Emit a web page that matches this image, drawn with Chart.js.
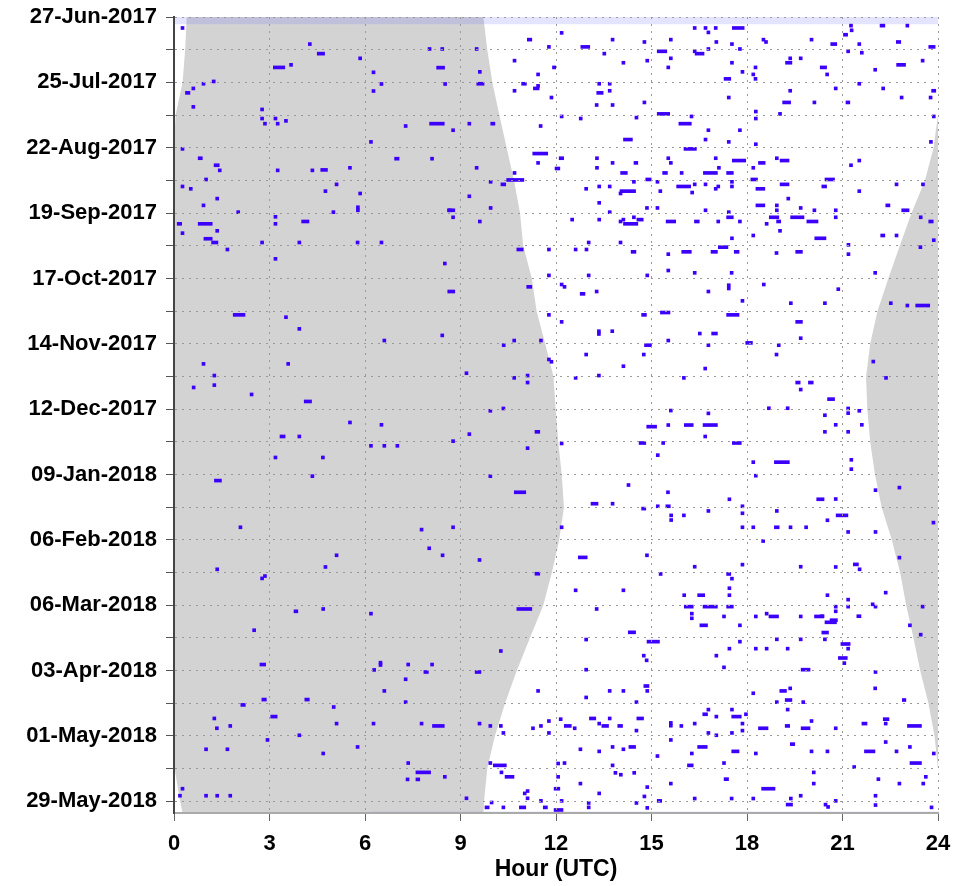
<!DOCTYPE html>
<html lang="en">
<head>
<meta charset="UTF-8">
<title>Events by hour of day (UTC)</title>
<script src="https://cdn.jsdelivr.net/npm/chart.js"></script>
<style>
  html, body { margin: 0; padding: 0; background: #fff; }
  canvas { display: block; }
</style>
</head>
<body>
<canvas id="chart" width="953" height="886"></canvas>
<script>
// y axis: days since 27-Jun-2017, labelled every 28 days, grid every 14
const lastDay = 341;
const yTickLabels = ['27-Jun-2017', '25-Jul-2017', '22-Aug-2017', '19-Sep-2017', '17-Oct-2017',
  '14-Nov-2017', '12-Dec-2017', '09-Jan-2018', '06-Feb-2018', '06-Mar-2018',
  '03-Apr-2018', '01-May-2018', '29-May-2018'];
const gridDays = [0, 14, 28, 42, 56, 70, 84, 98, 112, 126, 140, 154, 168, 182, 196, 210,
  224, 238, 252, 266, 280, 294, 308, 322, 336];

// sunrise / sunset in UTC hours (sunset after midnight kept as > 24)
const sunDays = [0, 14, 28, 42, 56, 70, 84, 98, 112, 126, 140, 154, 168, 182, 196, 210,
  224, 238, 252, 266, 280, 294, 308, 322, 336, 341];
const sunriseHour = [9.72, 9.84, 10.00, 10.22, 10.45, 10.68, 10.87, 10.97, 11.24, 11.39, 11.66, 11.92, 11.99,
  12.07, 12.18, 12.25, 12.10, 11.87, 11.60, 11.18, 10.77, 10.40, 10.08, 9.84, 9.74, 9.72];
const sunsetHour = [24.40, 24.35, 24.27, 24.05, 23.86, 23.59, 23.17, 22.80, 22.44, 22.10, 21.87, 21.74, 21.78,
  21.87, 22.02, 22.23, 22.55, 22.81, 23.00, 23.23, 23.44, 23.70, 23.89, 24.02, 24.19, 24.27];

// no-data bands (start / end of record)
const gapDayFrom = [0, 340.4];
const gapDayTo = [3.1, 341];
const gapHourFrom = [0, 6.2];
const gapHourTo = [24, 24];

// short events (single samples)
const dotDay = [
  4.7, 4.7, 6.6, 4.7, 3.7, 5.7, 3.7, 6.8, 9.7, 10.7,
  9.7, 10.7, 11.6, 9.7, 10.7, 9.7, 11.6, 12.8, 15.7, 14.7,
  13.7, 13.7, 14.7, 15.3, 13.7, 13.7, 13.7, 18.7, 19.6, 18.7,
  17.7, 19.6, 17.7, 17.7, 18.7, 23.5, 24.6, 21.6, 23.5, 21.6,
  24.6, 26.5, 24.6, 22.6, 28.7, 29.5, 31.6, 28.6, 28.6, 31.6,
  34.5, 37.7, 37.7, 36.6, 34.5, 31.6, 36.6, 30.6, 28.6, 30.6,
  34.5, 34.5, 48.5, 45.7, 42.6, 43.5, 43.1, 42.6, 46.7, 40.5,
  43.5, 41.5, 42.6, 48.5, 52.5, 53.5, 48.5, 54.5, 53.5, 62.5,
  60.5, 62.5, 60.5, 62.5, 60.5, 60.5, 63.5, 61.5, 64.6, 66.8,
  64.6, 66.8, 64.6, 64.6, 70.6, 76.8, 85.8, 81.8, 87.6, 73.6,
  72.6, 72.6, 70.6, 75.6, 70.6, 74.6, 75.2, 71.7, 71.7, 73.6,
  72.6, 70.6, 72.6, 77.8, 74.6, 71.7, 71.7, 79.6, 83.6, 86.8,
  86.8, 87.6, 86.8, 85.8, 81.8, 81.8, 82.8, 87.6, 83.6, 87.6,
  94.8, 93.6, 80.7, 82.8, 88.6, 91.6, 81.8, 82.8, 82.8, 85.8,
  85.8, 93.6, 4.7, 11.6, 20.5, 28.6, 27.6, 30.6, 38.5, 39.6,
  43.5, 45.7, 43.5, 45.7, 44.5, 56.5, 65.7, 65.7, 65.7, 69.6,
  72.6, 73.6, 77.8, 80.7, 83.6, 92.6, 91.6, 85.6, 88.6, 17.7,
  23.7, 28.7, 31.7, 46.7, 53.5, 60.7, 64.6, 71.7, 74.6, 75.6,
  81.5, 82.8, 83.6, 82.8, 99.6, 96.6, 96.6, 96.6, 96.6, 99.6,
  103.6, 105.6, 110.7, 128.6, 133.6, 127.6, 136.4, 138.6, 140.6, 138.6,
  138.6, 146.7, 147.7, 148.6, 148.6, 153.6, 152.6, 154.6, 153.6, 156.6,
  96.6, 96.6, 99.6, 99.6, 101.6, 101.1, 97.6, 101.6, 98.6, 95.6,
  110.7, 110.7, 108.6, 109.6, 109.6, 109.6, 114.6, 115.6, 117.6, 117.6,
  114.9, 116.3, 121.6, 114.6, 116.6, 122.6, 122.6, 122.6, 123.6, 130.6,
  134.6, 135.8, 134.6, 138.6, 135.6, 140.6, 137.6, 140.6, 144.6, 144.6,
  144.6, 149.6, 150.6, 154.6, 153.6, 154.6, 147.6, 154.6, 158.7, 157.7,
  161.7, 173.7, 174.7, 179.7, 168.7, 167.7, 178.7, 181.7, 183.7, 183.7,
  183.7, 184.7, 182.7, 188.7, 188.7, 196.7, 196.7, 218.6, 219.6, 218.6,
  218.6, 227.6, 230.6, 232.6, 230.6, 235.6, 236.6, 240.5, 239.5, 159.6,
  168.6, 169.8, 167.6, 167.6, 170.6, 174.8, 179.7, 177.7, 182.5, 187.7,
  190.7, 196.5, 200.5, 203.6, 206.6, 208.5, 209.6, 209.6, 213.5, 215.5,
  213.5, 211.6, 212.6, 218.6, 218.6, 218.6, 218.6, 211.6, 224.5, 230.6,
  235.5, 234.6, 235.5, 238.6, 240.6, 167.7, 169.7, 168.7, 174.7, 174.7,
  177.7, 189.7, 193.7, 202.7, 201.6, 206.5, 215.6, 220.6, 220.6, 216.6,
  231.6, 236.6, 235.6, 246.6, 247.7, 249.6, 252.6, 251.6, 252.6, 252.6,
  254.6, 252.6, 266.6, 260.6, 264.6, 270.6, 276.8, 280.6, 253.6, 255.6,
  262.7, 271.6, 276.6, 277.6, 279.7, 277.4, 277.4, 283.7, 288.7, 288.7,
  295.6, 293.5, 300.5, 304.7, 303.7, 302.7, 302.7, 302.7, 302.7, 303.7,
  303.7, 306.7, 304.7, 303.7, 301.6, 306.7, 300.8, 307.7, 309.7, 313.7,
  313.7, 315.5, 312.7, 319.6, 319.6, 245.6, 245.6, 247.7, 244.7, 247.7,
  253.6, 255.6, 257.6, 256.8, 260.6, 266.7, 267.6, 270.6, 273.6, 275.6,
  273.6, 278.6, 279.6, 288.7, 288.7, 288.7, 291.5, 293.5, 256.8, 255.6,
  256.8, 270.6, 270.6, 270.6, 266.6, 266.6, 289.7, 287.6, 293.5, 293.5,
  296.7, 287.6, 304.7, 302.7, 300.5, 305.7, 302.4, 303.6, 303.7, 302.7,
  296.7, 299.7, 306.7, 307.7, 296.7, 298.7, 302.7, 305.7, 306.7, 301.6,
  304.7, 302.7, 313.7, 314.6, 312.7, 313.7, 309.7, 316.6, 315.5, 319.6,
  315.5, 314.6, 314.6, 310.6, 314.6, 312.7, 315.5, 319.6, 326.6, 325.5,
  333.6, 330.6, 333.6, 333.6, 333.6, 334.7, 323.6, 336.5, 338.6, 332.6,
  331.6, 334.7, 335.8, 325.5, 319.8, 335.8, 328.4, 336.7, 338.6, 332.6,
  320.6, 323.8, 324.6, 323.8, 336.7, 333.9, 329.9, 338.8, 328.4, 334.8,
  334.8, 334.8, 334.8, 333.6, 323.6, 328.4, 337.4, 338.4, 335.8, 321.3,
  333.6, 337.6, 326.5, 328.4, 325.5, 328.4, 338.6
];
const dotHour = [
  16.31, 16.65, 16.74, 16.97, 21.22, 21.24, 22.99, 12.13, 13.73, 14.73,
  15.56, 16.99, 17.48, 18.47, 18.55, 19.98, 21.48, 11.73, 13.47, 16.31,
  16.74, 17.73, 21.13, 21.56, 9.46, 7.98, 8.38, 10.65, 14.07, 14.82,
  15.56, 17.48, 19.31, 19.64, 23.47, 9.56, 11.39, 15.48, 17.81, 18.22,
  18.15, 18.22, 20.47, 21.98, 8.47, 11.39, 10.65, 13.31, 13.64, 13.64,
  11.81, 13.23, 13.73, 14.73, 17.38, 19.31, 20.07, 20.74, 21.48, 22.23,
  22.81, 23.72, 8.72, 9.23, 12.13, 12.73, 14.48, 16.21, 11.47, 18.23,
  18.23, 18.99, 23.82, 16.74, 16.65, 17.38, 17.73, 18.23, 23.73, 11.39,
  13.24, 13.73, 15.48, 15.56, 16.97, 18.89, 21.22, 21.48, 9.46, 10.65,
  13.24, 15.90, 17.07, 18.15, 9.90, 9.23, 8.72, 9.90, 9.56, 12.90,
  13.31, 13.64, 14.40, 13.98, 15.14, 15.23, 16.23, 16.31, 16.65, 16.97,
  17.05, 17.48, 17.48, 19.25, 21.48, 22.65, 23.48, 13.31, 13.64, 12.46,
  13.31, 13.98, 14.07, 14.40, 14.81, 15.14, 16.65, 17.05, 17.38, 17.73,
  17.48, 18.15, 18.89, 18.89, 18.57, 18.99, 19.64, 20.07, 20.74, 20.74,
  23.41, 22.65, 0.22, 4.22, 3.63, 0.88, 1.20, 0.56, 0.56, 2.72,
  2.72, 2.81, 3.14, 3.21, 3.47, 0.22, 1.39, 3.21, 4.30, 0.96,
  0.22, 0.48, 1.31, 0.88, 1.97, 0.22, 1.31, 3.14, 3.14, 5.80,
  6.22, 6.47, 6.22, 7.23, 6.14, 8.06, 5.48, 5.06, 4.71, 5.80,
  5.73, 5.73, 4.96, 8.62, 1.63, 2.72, 3.89, 5.72, 6.47, 11.73,
  3.14, 8.46, 11.73, 3.47, 3.89, 11.73, 8.38, 6.56, 10.31, 10.64,
  11.48, 11.73, 11.81, 0.88, 3.54, 1.22, 9.14, 10.64, 11.06, 11.06,
  12.98, 13.98, 12.57, 12.91, 15.48, 18.88, 21.14, 21.14, 23.40, 23.82,
  12.98, 14.82, 15.48, 16.31, 17.47, 21.98, 12.13, 12.22, 13.23, 16.74,
  17.38, 17.38, 17.81, 18.48, 20.82, 19.33, 20.40, 22.47, 22.99, 12.13,
  13.30, 13.30, 13.72, 15.48, 16.47, 16.74, 19.64, 18.95, 18.88, 12.90,
  14.71, 14.07, 16.64, 12.57, 13.30, 15.97, 21.92, 22.32, 0.57, 1.22,
  2.39, 5.48, 6.47, 3.89, 9.89, 10.30, 9.23, 8.72, 6.14, 6.56,
  6.97, 11.06, 12.13, 3.14, 4.63, 4.30, 9.89, 2.04, 7.73, 8.72,
  12.13, 7.97, 8.39, 9.55, 5.06, 4.71, 1.31, 2.72, 2.81, 19.64,
  15.56, 16.74, 18.64, 19.23, 20.40, 15.48, 16.64, 20.40, 15.32, 15.15,
  18.15, 18.23, 14.23, 15.47, 17.40, 13.73, 15.15, 17.81, 15.57, 15.57,
  15.97, 16.74, 17.81, 17.81, 18.15, 19.32, 19.81, 18.89, 18.46, 14.81,
  16.31, 17.81, 19.64, 15.24, 17.48, 21.13, 21.13, 21.48, 20.74, 21.56,
  21.13, 21.23, 21.23, 21.99, 22.74, 20.74, 20.48, 21.13, 21.99, 23.81,
  22.74, 21.49, 20.74, 22.31, 20.48, 21.13, 21.13, 21.90, 21.99, 20.74,
  20.74, 23.47, 20.40, 23.07, 23.41, 21.13, 21.01, 21.99, 4.64, 6.14,
  2.47, 10.22, 6.44, 6.44, 6.24, 7.31, 8.06, 7.23, 6.56, 11.39,
  4.97, 7.23, 1.22, 1.30, 1.72, 5.06, 6.22, 7.73, 9.55, 9.89,
  10.22, 10.30, 11.23, 11.48, 11.73, 11.73, 12.10, 3.89, 2.89, 0.96,
  1.63, 4.64, 5.72, 7.31, 9.89, 12.57, 14.07, 15.98, 17.40, 17.40,
  13.23, 16.22, 16.22, 17.23, 17.73, 12.90, 17.73, 17.40, 14.71, 14.80,
  16.99, 17.23, 12.90, 13.64, 14.07, 14.82, 12.90, 14.48, 18.23, 18.57,
  19.64, 18.23, 18.57, 19.23, 18.89, 19.64, 18.15, 19.31, 18.89, 19.72,
  19.23, 21.98, 12.54, 13.31, 13.64, 14.48, 15.56, 15.56, 15.89, 16.31,
  16.74, 16.99, 16.74, 16.99, 17.48, 17.92, 17.81, 17.81, 17.48, 19.98,
  20.74, 22.31, 12.72, 13.31, 13.73, 14.07, 15.56, 15.14, 16.22, 17.23,
  18.23, 19.98, 20.48, 22.31, 22.65, 23.07, 23.82, 12.22, 7.29, 8.46,
  0.14, 0.22, 0.96, 1.31, 1.72, 9.14, 10.24, 9.93, 10.30, 10.97,
  11.06, 11.06, 11.48, 12.02, 12.02, 12.13, 12.72, 12.98, 12.98, 13.31,
  13.73, 13.82, 13.99, 14.41, 14.48, 14.73, 14.82, 14.82, 15.56, 16.31,
  17.47, 18.15, 19.33, 19.64, 20.05, 20.05, 20.42, 20.50, 20.74, 21.32,
  21.99, 21.99, 22.08, 22.74, 23.57, 23.49, 23.75
];

// longer events: day, start hour, duration in hours
const barDay = [
  4.7, 7.6, 3.7, 9.7, 11.6, 10.7, 12.8, 12.8, 14.7, 15.7,
  19.6, 20.5, 21.7, 21.6, 21.6, 26.5, 28.6, 28.6, 30.6, 32.5,
  36.6, 31.6, 36.6, 45.7, 45.7, 41.5, 45.7, 52.5, 56.5, 58.5,
  60.5, 62.5, 61.5, 62.5, 61.5, 64.9, 66.8, 66.8, 66.8, 66.8,
  69.8, 71.7, 82.8, 74.6, 69.6, 72.6, 69.6, 73.6, 71.7, 69.6,
  72.6, 88.6, 86.8, 87.6, 87.6, 85.8, 80.7, 85.8, 87.6, 85.8,
  87.6, 94.8, 80.7, 82.8, 87.6, 93.6, 15.7, 21.6, 32.5, 60.5,
  63.5, 88.6, 88.6, 87.6, 95.0, 96.6, 60.7, 65.5, 99.6, 115.6,
  117.6, 127.6, 100.6, 100.6, 100.6, 98.6, 100.6, 100.6, 118.6, 123.6,
  127.6, 126.6, 127.6, 140.6, 135.6, 139.6, 130.6, 156.6, 156.6, 164.7,
  179.7, 177.7, 198.6, 203.6, 238.5, 175.5, 174.8, 174.8, 182.5, 182.5,
  190.7, 208.5, 210.6, 209.6, 206.6, 218.6, 231.5, 238.6, 163.7, 213.5,
  234.5, 256.7, 256.7, 259.3, 258.4, 263.7, 268.6, 274.6, 254.6, 253.6,
  277.4, 280.6, 280.6, 294.7, 292.4, 292.4, 299.7, 303.7, 247.7, 252.6,
  252.6, 252.6, 260.6, 263.6, 267.6, 286.6, 256.8, 256.8, 279.6, 288.7,
  292.6, 292.6, 303.7, 300.5, 303.7, 303.7, 300.5, 298.7, 299.7, 304.7,
  303.7, 304.7, 302.7, 300.8, 303.7, 312.7, 312.7, 314.6, 311.5, 314.6,
  319.6, 320.6, 323.6, 326.6, 320.6, 325.5, 338.6, 338.6, 338.6, 330.6,
  339.7, 335.8, 326.5, 330.6, 337.4
];
const barStart = [
  17.54, 21.03, 22.18, 11.10, 20.63, 22.69, 23.71, 12.78, 15.18, 16.37,
  19.21, 22.70, 8.25, 11.89, 20.30, 17.28, 9.51, 10.92, 11.29, 13.28,
  19.12, 23.80, 21.11, 8.03, 9.95, 15.18, 15.86, 14.12, 16.02, 11.27,
  12.10, 14.45, 17.54, 18.36, 19.04, 11.97, 14.03, 15.35, 16.63, 17.36,
  10.45, 10.27, 8.59, 14.01, 14.82, 15.79, 18.12, 18.28, 19.04, 20.45,
  20.35, 14.12, 14.54, 15.46, 16.35, 17.36, 18.28, 18.70, 18.93, 19.37,
  19.88, 20.13, 22.36, 22.86, 23.71, 22.20, 4.50, 3.12, 0.36, 0.76,
  1.26, 0.10, 0.76, 4.01, 0.94, 1.18, 6.93, 4.61, 10.77, 11.08,
  8.60, 1.86, 14.36, 15.95, 16.87, 17.10, 17.60, 19.53, 12.76, 23.30,
  14.69, 15.28, 17.36, 14.78, 16.89, 17.96, 19.53, 19.53, 19.93, 4.09,
  3.33, 11.34, 1.27, 10.69, 11.34, 14.85, 16.03, 16.62, 14.61, 17.54,
  18.86, 13.10, 14.69, 15.45, 20.19, 18.86, 12.70, 17.36, 20.53, 20.80,
  21.34, 20.30, 21.45, 20.45, 20.61, 20.35, 20.95, 20.87, 3.77, 10.77,
  2.70, 7.85, 9.46, 2.10, 2.76, 4.11, 3.04, 8.12, 16.45, 16.03,
  16.62, 17.36, 16.52, 14.27, 14.86, 14.76, 18.69, 20.12, 19.70, 19.03,
  19.20, 22.88, 12.26, 13.05, 13.44, 13.94, 14.54, 16.61, 17.52, 18.36,
  19.20, 19.70, 21.61, 22.28, 23.04, 14.29, 16.45, 17.52, 19.36, 21.69,
  23.12, 16.13, 7.60, 7.60, 10.03, 10.40, 9.77, 10.85, 11.60, 11.94,
  11.94, 15.18, 17.28, 18.46, 19.23
];
const barLength = [
  0.37, 0.13, 0.15, 0.14, 0.19, 0.14, 0.20, 0.28, 0.30, 0.28,
  0.20, 0.28, 0.25, 0.10, 0.20, 0.21, 0.23, 0.15, 0.18, 0.20,
  0.25, 0.13, 0.12, 0.46, 0.13, 0.39, 0.39, 0.28, 0.39, 0.47,
  0.14, 0.12, 0.42, 0.21, 0.28, 0.15, 0.21, 0.15, 0.44, 0.21,
  0.54, 0.15, 0.23, 0.49, 0.17, 0.44, 0.21, 0.28, 0.28, 0.30,
  0.15, 0.45, 0.20, 0.30, 0.15, 0.21, 0.28, 0.30, 0.13, 0.42,
  0.35, 0.35, 0.13, 0.23, 0.14, 0.13, 0.23, 0.36, 0.14, 0.13,
  0.16, 0.14, 0.44, 0.23, 0.26, 0.20, 0.14, 0.21, 0.20, 0.16,
  0.22, 0.37, 0.15, 0.30, 0.20, 0.30, 0.15, 0.21, 0.15, 0.44,
  0.15, 0.30, 0.39, 0.22, 0.18, 0.21, 0.21, 0.14, 0.15, 0.23,
  0.16, 0.15, 0.22, 0.36, 0.15, 0.31, 0.28, 0.45, 0.21, 0.28,
  0.47, 0.22, 0.13, 0.14, 0.23, 0.15, 0.28, 0.13, 0.22, 0.37,
  0.16, 0.12, 0.13, 0.36, 0.23, 0.21, 0.29, 0.28, 0.12, 0.47,
  0.18, 0.14, 0.18, 0.14, 0.14, 0.14, 0.20, 0.37, 0.22, 0.28,
  0.45, 0.21, 0.24, 0.23, 0.39, 0.16, 0.30, 0.28, 0.28, 0.21,
  0.21, 0.11, 0.22, 0.20, 0.21, 0.15, 0.21, 0.15, 0.30, 0.30,
  0.14, 0.28, 0.16, 0.18, 0.44, 0.21, 0.30, 0.23, 0.14, 0.33,
  0.36, 0.18, 0.46, 0.12, 0.41, 0.28, 0.13, 0.20, 0.13, 0.18,
  0.28, 0.14, 0.14, 0.42, 0.20
];

const EVENT_BLUE = 'rgb(60, 0, 250)';
const NIGHT_GREY = '#d3d3d3';
const GAP_TINT = 'rgba(120, 120, 255, 0.2)';

Chart.defaults.font.family = "'Liberation Sans', Arial, sans-serif";
Chart.defaults.font.weight = 'bold';
Chart.defaults.color = '#000';

// night: left part runs from max(0, sunset-24) to sunrise, right part from sunset to 24
const nightLeft = sunDays.map((d, i) => ({x: sunriseHour[i], y: d}))
  .concat(sunDays.map((d, i) => ({x: Math.max(0, sunsetHour[i] - 24), y: d})).reverse());
const nightRight = sunDays.map((d, i) => ({x: Math.min(24, sunsetHour[i]), y: d}))
  .concat(sunDays.map(d => ({x: 24, y: d})).reverse());

function shapeSet(points, colour, order) {
  return {
    type: 'line', data: points, fill: 'shape', backgroundColor: colour,
    borderColor: 'rgba(0,0,0,0)', borderWidth: 0, pointRadius: 0, tension: 0, order: order
  };
}

const gapSets = gapDayFrom.map((d, i) => shapeSet([
  {x: gapHourFrom[i], y: d}, {x: gapHourTo[i], y: d},
  {x: gapHourTo[i], y: gapDayTo[i]}, {x: gapHourFrom[i], y: gapDayTo[i]}
], GAP_TINT, 1));

const eventStyle = {
  type: 'bar', indexAxis: 'y', backgroundColor: EVENT_BLUE, borderWidth: 0,
  barThickness: 3, minBarLength: 3, grouped: false, order: 0
};

new Chart(document.getElementById('chart'), {
  type: 'bar',
  data: {
    datasets: [
      Object.assign({label: 'samples', data: dotDay.map((d, i) => ({y: d, x: [dotHour[i], dotHour[i]]}))}, eventStyle),
      Object.assign({label: 'runs', data: barDay.map((d, i) => ({y: d, x: [barStart[i], barStart[i] + barLength[i]]}))}, eventStyle),
      ...gapSets,
      shapeSet(nightLeft, NIGHT_GREY, 2),
      shapeSet(nightRight, NIGHT_GREY, 2)
    ]
  },
  options: {
    responsive: false,
    animation: false,
    layout: {padding: {left: 0, right: 15, top: 17, bottom: 0}},
    plugins: {legend: {display: false}, tooltip: {enabled: false}},
    scales: {
      x: {
        type: 'linear', min: 0, max: 24, offset: false,
        ticks: {stepSize: 3, padding: 10, font: {size: 22, weight: 'bold'}, color: '#000'},
        grid: {offset: false, color: '#999', z: 1, tickLength: 8, tickColor: '#666'},
        border: {color: '#aaa', width: 2, dash: [2, 5], z: 2},
        title: {display: true, text: 'Hour (UTC)', font: {size: 23, weight: 'bold'}, color: '#000',
          padding: {top: 0, bottom: 3}},
        afterFit: s => { s.height = 73; s.paddingLeft = 0; s.paddingRight = 0; }
      },
      y: {
        type: 'linear', min: 0, max: lastDay, reverse: true, offset: false,
        afterBuildTicks: s => { s.ticks = gridDays.map(v => ({value: v})); },
        ticks: {
          autoSkip: false, padding: 9, font: {size: 22, weight: 'bold'}, color: '#000',
          callback: v => (v % 28 === 0 ? yTickLabels[v / 28] : '')
        },
        grid: {offset: false, color: '#999', z: 1, tickLength: 8, tickColor: '#555'},
        border: {color: '#444', width: 2, dash: [2, 5], z: 2},
        afterFit: s => { s.width = 174; s.paddingTop = 0; s.paddingBottom = 0; }
      }
    }
  }
});
</script>
</body>
</html>
